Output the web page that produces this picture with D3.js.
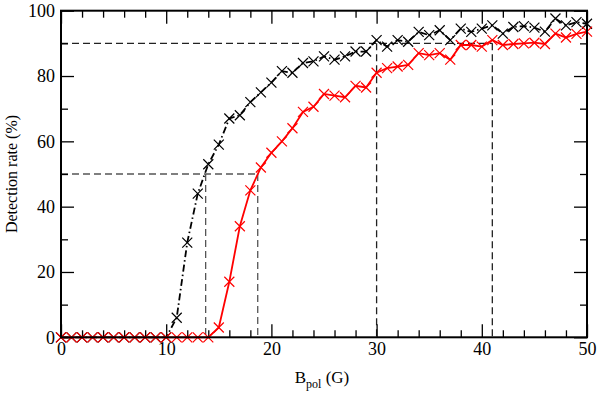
<!DOCTYPE html>
<html>
<head>
<meta charset="utf-8">
<script src="https://cdn.jsdelivr.net/npm/d3@7"></script>
<style>
  html, body { margin: 0; padding: 0; background: #fff; }
  svg { display: block; }
  svg text { font-family: "Liberation Serif", "Times New Roman", Times, serif; }
</style>
</head>
<body>
<svg id="chart" width="600" height="393"></svg>
<script>
// B_pol values (G) sampled every 1 G
const bpol = [0,1,2,3,4,5,6,7,8,9,10,11,12,13,14,15,16,17,18,19,20,
  21,22,23,24,25,26,27,28,29,30,31,32,33,34,35,36,37,38,39,40,
  41,42,43,44,45,46,47,48,49,50];

// detection rate (%) - black dash-dot curve
const rateBlack = [0,0,0,0,0,0,0,0,0,0,0,6,29,44,53,59,67,68,72,75,78,
  81.5,81,84,84.5,86,85,86,87.5,87.5,91,89,91,90.5,93.5,92.5,94,91,94.5,93.5,94.5,
  95.5,93,95,95.3,94.8,93.6,97.6,95.5,96.5,96];

// detection rate (%) - red solid curve
const rateRed = [0,0,0,0,0,0,0,0,0,0,0,0,0,0,0,3,17,34,45,52,56.5,
  60,64,69,70.6,74.5,74,73.5,77,76.5,81,82.4,82.9,83.4,87,86.4,87,85,89.5,89.5,89,
  91,89.5,89.8,90,90.2,89.8,93,91.8,92.9,93.6];

// dashed guide lines: [x1, y1, x2, y2] in data units
const guides50 = [[0,50,18.7,50],[13.75,50,13.75,0],[18.7,50,18.7,0]];
const guides90 = [[0,90,41,90],[30,90,30,0],[41,90,41,0]];

const xMajor = [0,10,20,30,40,50];
const xMinor = [2,4,6,8,12,14,16,18,22,24,26,28,32,34,36,38,42,44,46,48];
const yMajor = [0,20,40,60,80,100];
const yMinor = [10,30,50,70,90];

const serif = '"Liberation Serif", "Times New Roman", Times, serif';
const margin = { top: 10.7, right: 13, bottom: 55.7, left: 61 };
const W = 600, H = 393;
const innerW = W - margin.left - margin.right;
const innerH = H - margin.top - margin.bottom;

const svg = d3.select('#chart');
const g = svg.append('g').attr('transform', `translate(${margin.left},${margin.top})`);

const x = d3.scaleLinear().domain([0, 50]).range([0, innerW]);
const y = d3.scaleLinear().domain([0, 100]).range([innerH, 0]);

// guides
function drawGuides(list, color) {
  g.append('g').selectAll('line').data(list).join('line')
    .attr('x1', d => x(d[0])).attr('y1', d => y(d[1]))
    .attr('x2', d => x(d[2])).attr('y2', d => y(d[3]))
    .attr('stroke', color).attr('stroke-width', 1.3)
    .attr('stroke-dasharray', '7 4');
}
drawGuides(guides50, '#555');
drawGuides(guides90, '#222');

// inward ticks on all sides
function ticks(axisFn, vals, size, transform) {
  const a = g.append('g').attr('transform', transform || null)
    .call(axisFn.tickValues(vals).tickSize(size).tickFormat(''));
  a.select('.domain').remove();
  a.selectAll('line').attr('stroke', '#000').attr('stroke-width', 1.3);
}
ticks(d3.axisBottom(x), xMajor, -13, `translate(0,${innerH})`);
ticks(d3.axisBottom(x), xMinor, -7, `translate(0,${innerH})`);
ticks(d3.axisTop(x), xMajor, -13);
ticks(d3.axisTop(x), xMinor, -7);
ticks(d3.axisLeft(y), yMajor, -13);
ticks(d3.axisLeft(y), yMinor, -7);
ticks(d3.axisRight(y), yMajor, -13, `translate(${innerW},0)`);
ticks(d3.axisRight(y), yMinor, -7, `translate(${innerW},0)`);

// tick labels
const xl = g.append('g').attr('transform', `translate(0,${innerH})`)
  .call(d3.axisBottom(x).tickValues(xMajor).tickSize(0).tickPadding(5).tickFormat(d3.format('d')));
xl.attr('font-family', serif);
xl.select('.domain').remove();
xl.selectAll('text').attr('font-size', 18).attr('fill', '#000');

const yl = g.append('g')
  .call(d3.axisLeft(y).tickValues(yMajor).tickSize(0).tickPadding(6).tickFormat(d3.format('d')));
yl.attr('font-family', serif);
yl.select('.domain').remove();
yl.selectAll('text').attr('font-size', 18).attr('fill', '#000');

// series
const lineGen = vals => d3.line().x((d, i) => x(bpol[i])).y(d => y(d))(vals);

function drawSeries(vals, color, dash) {
  g.append('path').attr('d', lineGen(vals))
    .attr('fill', 'none').attr('stroke', color).attr('stroke-width', 1.8)
    .attr('stroke-dasharray', dash || null);
  const s = 5;
  g.append('g').selectAll('path').data(vals).join('path')
    .attr('transform', (d, i) => `translate(${x(bpol[i])},${y(d)})`)
    .attr('d', `M${-s},${-s}L${s},${s}M${-s},${s}L${s},${-s}`)
    .attr('stroke', color).attr('stroke-width', 1.2).attr('fill', 'none');
}
drawSeries(rateBlack, '#000', '7 3 1.5 3');
drawSeries(rateRed, '#ff0000');

// frame
g.append('rect').attr('width', innerW).attr('height', innerH)
  .attr('fill', 'none').attr('stroke', '#000').attr('stroke-width', 2);

// axis titles
const xt = svg.append('text')
  .attr('x', margin.left + innerW / 2 - 2).attr('y', 383)
  .attr('font-family', serif)
  .attr('text-anchor', 'middle').attr('font-size', 17).attr('fill', '#000');
xt.append('tspan').text('B');
xt.append('tspan').attr('font-size', 12).attr('dy', 5).text('pol');
xt.append('tspan').attr('dy', -5).text(' (G)');

svg.append('text')
  .attr('transform', `translate(17,${margin.top + innerH / 2}) rotate(-90)`)
  .attr('font-family', serif)
  .attr('text-anchor', 'middle').attr('font-size', 16).attr('fill', '#000')
  .text('Detection rate (%)');
</script>
</body>
</html>
